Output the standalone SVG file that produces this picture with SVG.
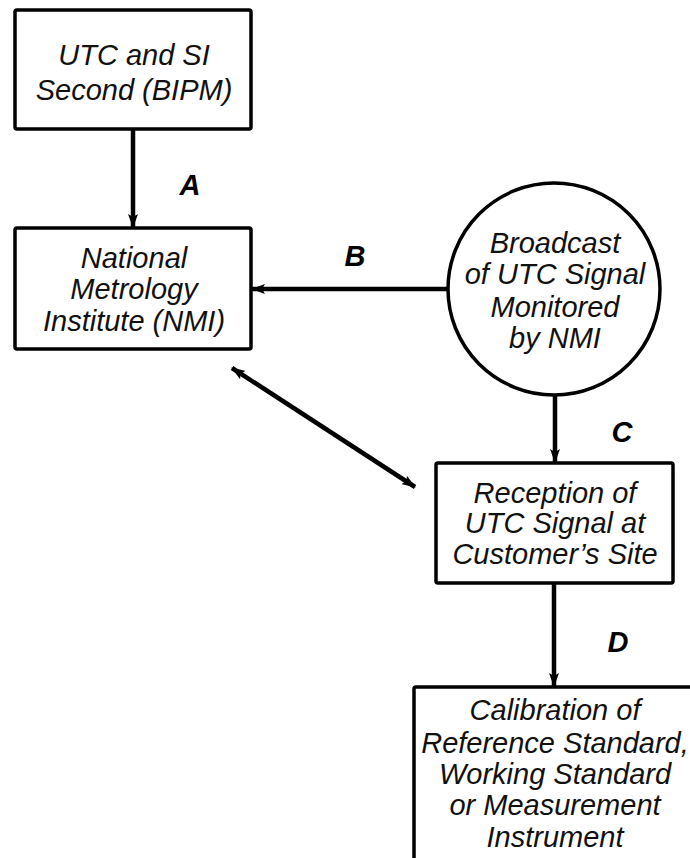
<svg xmlns="http://www.w3.org/2000/svg" width="690" height="858" viewBox="0 0 690 858">
<style>
.box{fill:#fff;stroke:#000;stroke-width:3.5}
.t{font-family:"Liberation Sans",Arial,sans-serif;font-style:italic;font-size:29px;text-anchor:middle;fill:#111}
.lbl{font-family:"Liberation Sans",Arial,sans-serif;font-style:italic;font-weight:bold;font-size:29px;text-anchor:middle;fill:#000}
.c{stroke:#000;stroke-width:4.5;fill:none}
</style>
<defs>
<marker id="ah" viewBox="0 0 14 10" refX="13" refY="5" markerWidth="14" markerHeight="10" markerUnits="userSpaceOnUse" orient="auto-start-reverse">
<path d="M0,0 L14,5 L0,10 L3,5 Z" fill="#000"/>
</marker>
</defs>
<rect width="690" height="858" fill="#fff"/>
<g id="connectors">
<line class="c" x1="133" y1="129" x2="133" y2="227" marker-end="url(#ah)"/>
<line class="c" x1="448" y1="289" x2="252" y2="289" marker-end="url(#ah)"/>
<line class="c" x1="555" y1="394" x2="555" y2="462" marker-end="url(#ah)"/>
<line class="c" x1="554" y1="584" x2="554" y2="686" marker-end="url(#ah)"/>
<line class="c" x1="232" y1="368" x2="415" y2="487" marker-start="url(#ah)" marker-end="url(#ah)"/>
<text class="lbl" x="190" y="195">A</text>
<text class="lbl" x="355" y="266">B</text>
<text class="lbl" x="622" y="442">C</text>
<text class="lbl" x="618" y="652">D</text>
</g>
<g id="bipm">
<rect class="box" x="15" y="10" width="236" height="119" rx="2"/>
<text class="t" x="134" y="65">UTC and SI</text>
<text class="t" x="134" y="100">Second (BIPM)</text>
</g>
<g id="nmi">
<rect class="box" x="15" y="228" width="236" height="121" rx="2"/>
<text class="t" x="134" y="268">National</text>
<text class="t" x="134" y="299">Metrology</text>
<text class="t" x="134" y="331">Institute (NMI)</text>
</g>
<g id="broadcast">
<circle class="box" cx="554" cy="289" r="106"/>
<text class="t" x="555" y="253">Broadcast</text>
<text class="t" x="555" y="284">of UTC Signal</text>
<text class="t" x="555" y="317">Monitored</text>
<text class="t" x="555" y="348">by NMI</text>
</g>
<g id="reception">
<rect class="box" x="436" y="463" width="237" height="120" rx="2"/>
<text class="t" x="555" y="503">Reception of</text>
<text class="t" x="555" y="533">UTC Signal at</text>
<text class="t" x="555" y="564">Customer’s Site</text>
</g>
<g id="calibration">
<rect class="box" x="414" y="687" width="300" height="200" rx="2"/>
<text class="t" x="555" y="720">Calibration of</text>
<text class="t" x="555" y="753">Reference Standard,</text>
<text class="t" x="555" y="784">Working Standard</text>
<text class="t" x="555" y="815">or Measurement</text>
<text class="t" x="555" y="847">Instrument</text>
</g>
</svg>
